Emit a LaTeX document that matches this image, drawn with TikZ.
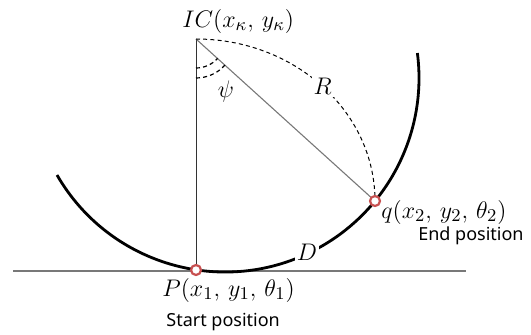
\documentclass[tikz,border=0pt]{standalone}
\usepackage{fontspec}
\newfontfamily\poslabelfont{Noto Sans}
\usepackage{xcolor}
\usetikzlibrary{positioning}
\definecolor{markred}{RGB}{200, 80, 80}
\definecolor{guidegray}{RGB}{120, 120, 120}

\begin{document}
\begin{tikzpicture}[
    x=0.5pt, y=0.5pt,
    endpt/.style={circle, draw=markred, fill=white, line width=1.1pt, minimum size=5pt, inner sep=0pt},
    mathlbl/.style={font=\fontsize{13}{15}\selectfont, inner sep=0pt},
    poslbl/.style={font=\poslabelfont\fontsize{9}{11}\selectfont, inner sep=0pt},
    guide/.style={draw=guidegray, line width=0.55pt},
    trackarc/.style={line width=1.4pt},
    dashedarc/.style={line width=0.5pt, dash pattern=on 2pt off 1.6pt}
]
\useasboundingbox (0,0) rectangle (531,334);

% Key points
\coordinate (ctr) at (225,256);
\coordinate (IC) at (196,295);
\coordinate (gl) at (13,63);
\coordinate (gr) at (466,63);

% Ground line and guide lines
\draw[guide, line width=0.75pt] (gl) -- (gr);
\draw[line width=0.5pt, draw=black!80] (IC) -- (196,64);
\draw[guide] (IC) -- (375,133);

% Path of the robot
\draw[trackarc] (57,159) arc[start angle=210, end angle=367.4, radius=194];
\node[mathlbl, fill=white, inner sep=1pt] (D) at (307,82) {$D$};

% Radius and angle
\draw[dashedarc] (IC) arc[start angle=90, end angle=0, x radius=179, y radius=162]
    node[pos=0.5, mathlbl, fill=white, inner sep=1pt] (R) {$R$};
\draw[dashedarc, line width=0.6pt] (IC) ++(-90:29) arc[start angle=-90, end angle=-42, radius=29];
\draw[dashedarc, line width=0.6pt] (IC) ++(-90:39) arc[start angle=-90, end angle=-42, radius=39];
\node[mathlbl] (psi) at (226,243) {$\psi$};

% End points
\node[endpt] (P) at (196,64) {};
\node[endpt] (q) at (375,133) {};

% Labels
\node[mathlbl, anchor=base west] (iclbl) at (182,307) {$IC\bigl(x_{\kappa},\, y_{\kappa}\bigr)$};
\node[mathlbl, anchor=base west] (qlbl) at (381,116) {$q\bigl(x_{2},\, y_{2},\, \theta_{2}\bigr)$};
\node[mathlbl, anchor=base west] (Plbl) at (162,38) {$P\bigl(x_{1},\, y_{1},\, \theta_{1}\bigr)$};
\node[poslbl, anchor=base east] (endlbl) at (524,94) {End position};
\node[poslbl, anchor=base west] (startlbl) at (166,8) {Start position};
\end{tikzpicture}
\end{document}
